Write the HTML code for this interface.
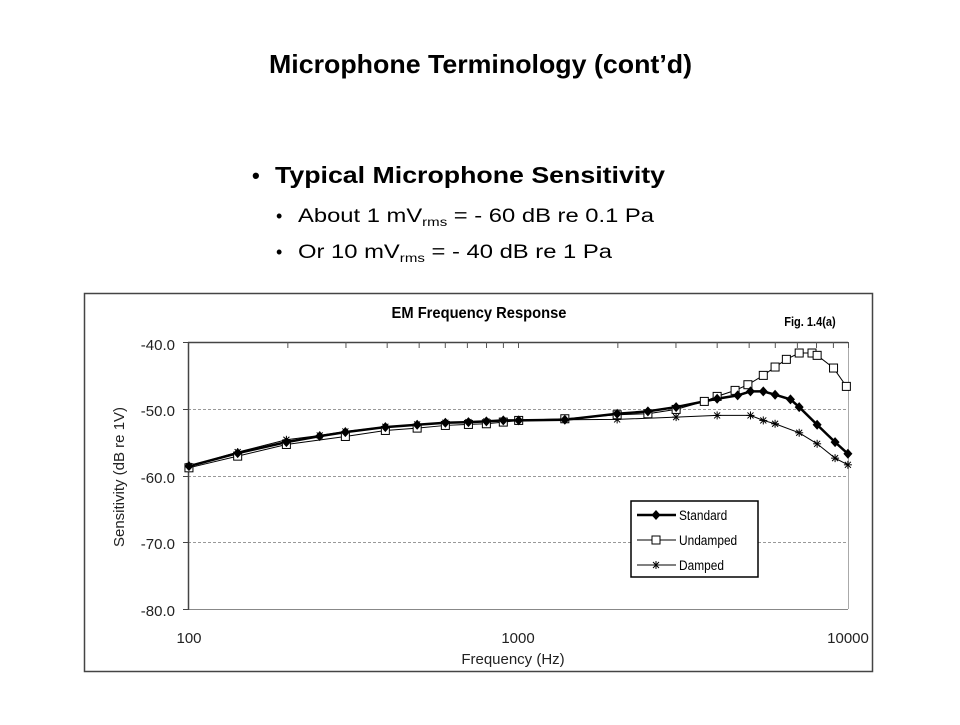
<!DOCTYPE html>
<html><head><meta charset="utf-8"><style>
body{margin:0;background:#fff;width:960px;height:720px;overflow:hidden;font-family:"Liberation Sans",sans-serif}
</style></head><body>
<svg id="s" width="960" height="720" xmlns="http://www.w3.org/2000/svg" font-family="Liberation Sans, sans-serif">
<rect width="960" height="720" fill="#fff"/>
<text x="269" y="73" font-size="26" font-weight="bold" textLength="423" lengthAdjust="spacingAndGlyphs">Microphone Terminology (cont’d)</text>
<text x="252" y="183" font-size="22" font-weight="bold">•</text>
<text x="275" y="183" font-size="23" font-weight="bold" textLength="390" lengthAdjust="spacingAndGlyphs">Typical Microphone Sensitivity</text>
<text x="276" y="222" font-size="18">•</text>
<text x="298" y="222" font-size="19" textLength="356" lengthAdjust="spacingAndGlyphs">About 1 mV<tspan font-size="12" dy="4">rms</tspan><tspan dy="-4"> = - 60 dB re 0.1 Pa</tspan></text>
<text x="276" y="258" font-size="18">•</text>
<text x="298" y="258" font-size="19" textLength="314" lengthAdjust="spacingAndGlyphs">Or 10 mV<tspan font-size="12" dy="4">rms</tspan><tspan dy="-4"> = - 40 dB re 1 Pa</tspan></text>
<rect x="84.5" y="293.5" width="788" height="378" fill="#fff" stroke="#444" stroke-width="1.5"/>
<text x="479" y="318" text-anchor="middle" font-size="16" font-weight="bold" transform="translate(479 318) scale(0.92 1) translate(-479 -318)">EM Frequency Response</text>
<text x="810" y="326" text-anchor="middle" font-size="13" font-weight="bold" transform="translate(810 326) scale(0.85 1) translate(-810 -326)">Fig. 1.4(a)</text>
<g font-size="15" text-anchor="end" fill="#222">
<text x="175" y="350">-40.0</text><text x="175" y="416">-50.0</text><text x="175" y="483">-60.0</text><text x="175" y="549">-70.0</text><text x="175" y="616">-80.0</text>
</g>
<g font-size="15" text-anchor="middle" fill="#222">
<text x="189" y="643">100</text><text x="518" y="643">1000</text><text x="848" y="643">10000</text>
<text x="513" y="664">Frequency (Hz)</text>
</g>
<text transform="translate(124 477) rotate(-90)" font-size="15" text-anchor="middle" fill="#222">Sensitivity (dB re 1V)</text>
<g id="g"></g>
</svg>
<script>
var g=document.getElementById('g'),NS='http://www.w3.org/2000/svg';
function el(t,a){var e=document.createElementNS(NS,t);for(var k in a)e.setAttribute(k,a[k]);g.appendChild(e);return e;}
function X(z){return 78.7+z*0.5128;} function Y(z){return 288.6+z*0.33375;}
[409,476,542].forEach(function(y){el('line',{x1:188,x2:848,y1:y+.5,y2:y+.5,stroke:'#999','stroke-width':1,'stroke-dasharray':'3 2'});});
el('line',{x1:848.5,x2:848.5,y1:342,y2:609,stroke:'#aaa','stroke-width':1});
el('line',{x1:188,x2:848,y1:342.5,y2:342.5,stroke:'#444','stroke-width':1.5});
el('line',{x1:188,x2:848,y1:609.5,y2:609.5,stroke:'#888','stroke-width':1});
el('line',{x1:188.5,x2:188.5,y1:342,y2:610,stroke:'#444','stroke-width':1.5});
[342.5,409.5,476.5,542.5,609.5].forEach(function(y){el('line',{x1:183,x2:188,y1:y,y2:y,stroke:'#444','stroke-width':1});});
for(var d=0;d<2;d++)for(var m=2;m<=10;m++){var x=188.5+330*(d+Math.log10(m));el('line',{x1:x,x2:x,y1:342,y2:348,stroke:'#555','stroke-width':1});}
function P(s){return s.split(' ').map(function(p){var a=p.split(',').map(Number);return [X(a[0]),Y(a[1])];});}
var S=P("215,532 310,493 405,460 470,442 520,430 598,415 660,408 715,402 760,400 795,398 828,395 858,395 948,393 1050,375 1110,368 1165,355 1245,330 1285,320 1310,308 1335,308 1358,318 1388,332 1405,355 1440,408 1475,460 1500,495");
var U=P("215,537 310,502 405,467 520,443 598,425 660,418 715,410 760,407 795,405 828,400 858,395 948,390 1050,378 1110,375 1165,362 1220,338 1245,323 1280,305 1305,288 1335,260 1358,235 1380,212 1405,193 1430,193 1440,200 1472,238 1497,293");
var D=P("215,532 310,490 405,453 470,440 520,428 598,414 660,407 715,402 760,400 795,398 828,396 858,395 948,393 1050,392 1165,385 1245,380 1310,380 1335,395 1358,405 1405,432 1440,465 1475,508 1500,528");
function line(pts,w){el('polyline',{points:pts.map(function(p){return p.join(',')}).join(' '),fill:'none',stroke:'#000','stroke-width':w});}
function dia(x,y){el('polygon',{points:x+','+(y-5)+' '+(x+4.5)+','+y+' '+x+','+(y+5)+' '+(x-4.5)+','+y,fill:'#000'});}
function sq(x,y){el('rect',{x:x-4,y:y-4,width:8,height:8,fill:'#fff',stroke:'#000','stroke-width':1});}
function ast(x,y){[[-4,0,4,0],[0,-4,0,4],[-3,-3,3,3],[-3,3,3,-3]].forEach(function(a){el('line',{x1:x+a[0],y1:y+a[1],x2:x+a[2],y2:y+a[3],stroke:'#000','stroke-width':1});});}
line(D,1);line(U,1);line(S,2.5);
D.forEach(function(p){ast(p[0],p[1]);});
U.forEach(function(p){sq(p[0],p[1]);});
S.forEach(function(p){dia(p[0],p[1]);});
el('rect',{x:631,y:501,width:127,height:76,fill:'#fff',stroke:'#000','stroke-width':1.5});
el('line',{x1:637,x2:676,y1:515,y2:515,stroke:'#000','stroke-width':2.5});dia(656,515);
el('line',{x1:637,x2:676,y1:540,y2:540,stroke:'#000','stroke-width':1});sq(656,540);
el('line',{x1:637,x2:676,y1:565,y2:565,stroke:'#000','stroke-width':1});ast(656,565);
[['Standard',520],['Undamped',545],['Damped',570]].forEach(function(a){var t=el('text',{x:679,y:a[1],'font-size':14,fill:'#000',transform:'translate(679 '+a[1]+') scale(0.85 1) translate(-679 -'+a[1]+')'});t.textContent=a[0];});
</script>
</body></html>
